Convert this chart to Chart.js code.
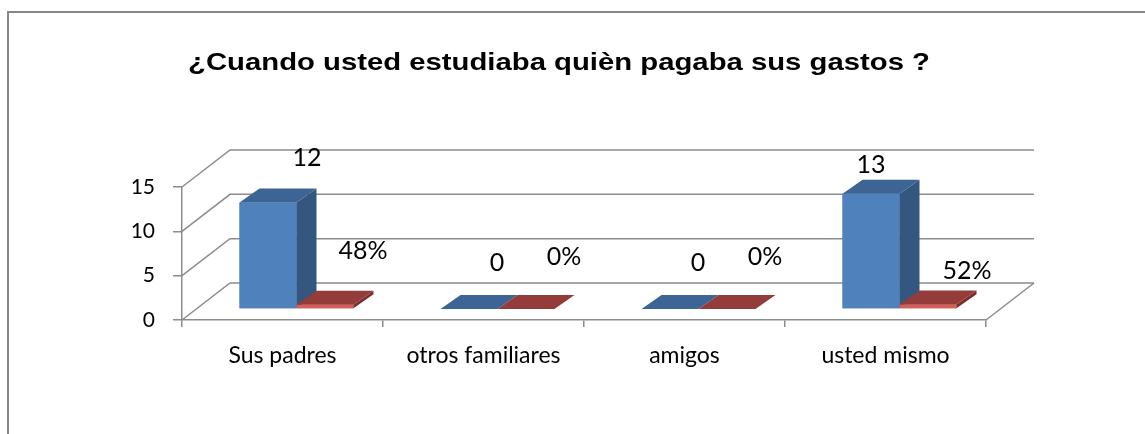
<!DOCTYPE html>
<html>
<head>
<meta charset="utf-8">
<script src="https://cdn.jsdelivr.net/npm/chart.js@4"></script>
<style>
  html, body { margin: 0; padding: 0; background: #fff; }
  #wrap { width: 1145px; height: 434px; position: relative; }
</style>
</head>
<body>
<div id="wrap"><canvas id="myChart" width="1145" height="434"></canvas></div>
<script>
const title = "¿Cuando usted estudiaba quièn pagaba sus gastos ?";
const categories = ["Sus padres", "otros familiares", "amigos", "usted mismo"];
const counts = [12, 0, 0, 13];
const shares = [0.48, 0, 0, 0.52];
const yTicks = [0, 5, 10, 15];

// label nudges from Excel's placement (px, relative to bar front top)
const labelNudge = [
  [[39, -45], [38, -54]],
  [[28, -46], [38, -52]],
  [[28, -46], [38, -52]],
  [[0, -29], [39, -33]],
];

const DEPTH = { x: 20, y: -14 };     // bar extrusion
const SHIFT = { x: 14, y: -11 };     // bars sit in middle of floor
const WALL = { x: 48, y: -37 };      // back wall offset
const GRID = "#8c8c8c";
const FONT = "Lato, 'Open Sans', sans-serif";

const faces = [
  { front: "#4F81BD", side: "#34577F", top: "#3C6494" },
  { front: "#D65E5A", side: "#7B2F2D", top: "#943C39" },
];

const fmtLabel = [
  (v) => String(v),
  (v) => Math.round(v * 100) + "%",
];

const box3d = {
  id: "box3d",
  beforeDraw(chart) {
    const { ctx, chartArea: a, scales } = chart;
    const y = scales.y;
    ctx.save();
    // outer frame
    ctx.strokeStyle = "#878787";
    ctx.lineWidth = 2;
    ctx.strokeRect(8, 12, 1200, 500);
    // title (source picture is stretched sideways)
    ctx.save();
    ctx.translate(559, 63);
    ctx.scale(1.22, 1);
    ctx.fillStyle = "#000";
    ctx.font = "bold 24px 'Liberation Sans', Arial, sans-serif";
    ctx.textAlign = "center";
    ctx.textBaseline = "middle";
    ctx.fillText(title, 0, 0);
    ctx.restore();
    // back wall + left wall diagonals
    ctx.strokeStyle = GRID;
    ctx.lineWidth = 1.5;
    yTicks.forEach((t) => {
      const py = y.getPixelForValue(t);
      ctx.beginPath();
      ctx.moveTo(a.left, py);
      ctx.lineTo(a.left + WALL.x, py + WALL.y);
      ctx.lineTo(a.right + WALL.x, py + WALL.y);
      ctx.stroke();
    });
    // floor right edge
    const p0 = y.getPixelForValue(0);
    ctx.beginPath();
    ctx.moveTo(a.right, p0);
    ctx.lineTo(a.right + WALL.x, p0 + WALL.y);
    ctx.stroke();
    ctx.restore();
  },
  beforeDatasetsDraw(chart) {
    chart.ctx.save();
    chart.ctx.translate(SHIFT.x, SHIFT.y);
  },
  afterDatasetsDraw(chart) {
    const ctx = chart.ctx;
    const metas = chart.data.datasets.map((_, i) => chart.getDatasetMeta(i));
    const poly = (pts, fill) => {
      ctx.beginPath();
      ctx.moveTo(pts[0][0], pts[0][1]);
      pts.slice(1).forEach((p) => ctx.lineTo(p[0], p[1]));
      ctx.closePath();
      ctx.fillStyle = fill;
      ctx.fill();
    };
    categories.forEach((_, i) => {
      metas.forEach((meta, d) => {
        const bar = meta.data[i];
        const w = bar.width;
        const l = bar.x - w / 2, r = bar.x + w / 2;
        const t = bar.y, b = bar.base;
        const f = faces[d];
        if (b - t > 0.5) {
          ctx.fillStyle = f.front;
          ctx.fillRect(l, t, w, b - t);
          poly([[r, t], [r + DEPTH.x, t + DEPTH.y], [r + DEPTH.x, b + DEPTH.y], [r, b]], f.side);
        }
        poly([[l, t], [l + DEPTH.x, t + DEPTH.y], [r + DEPTH.x, t + DEPTH.y], [r, t]], f.top);
      });
    });
    // data labels
    ctx.fillStyle = "#000";
    ctx.font = "25px " + FONT;
    ctx.textAlign = "center";
    ctx.textBaseline = "middle";
    metas.forEach((meta, d) => {
      meta.data.forEach((bar, i) => {
        const v = chart.data.datasets[d].data[i];
        const n = labelNudge[i][d];
        ctx.fillText(fmtLabel[d](v), bar.x + n[0], bar.y + n[1]);
      });
    });
    ctx.restore();
  },
};

new Chart(document.getElementById("myChart"), {
  type: "bar",
  data: {
    labels: categories,
    datasets: [
      { label: "Cantidad", data: counts, backgroundColor: faces[0].front },
      { label: "Porcentaje", data: shares, backgroundColor: faces[1].front },
    ],
  },
  options: {
    responsive: false,
    animation: false,
    events: [],
    layout: { padding: { left: 0, right: 159, top: 187, bottom: 0 } },
    datasets: {
      bar: { barPercentage: 1, categoryPercentage: 0.567, clip: false },
    },
    plugins: {
      legend: { display: false },
      title: { display: false },
      tooltip: { enabled: false },
    },
    scales: {
      x: {
        afterFit: (s) => { s.height = 114; },
        grid: { offset: true, drawOnChartArea: false, tickLength: 7, color: GRID, lineWidth: 1.5 },
        border: { color: GRID, width: 1.5 },
        ticks: { color: "#000", padding: 15, font: { family: FONT, size: 23 } },
      },
      y: {
        min: 0,
        max: 15,
        afterFit: (s) => { s.width = 182; },
        afterBuildTicks: (s) => { s.ticks = yTicks.map((v) => ({ value: v })); },
        grid: { drawOnChartArea: false, tickLength: 9, color: GRID, lineWidth: 1.5 },
        border: { color: GRID, width: 1.5 },
        ticks: { color: "#000", padding: 18, font: { family: FONT, size: 21 } },
      },
    },
  },
  plugins: [box3d],
});
</script>
</body>
</html>
